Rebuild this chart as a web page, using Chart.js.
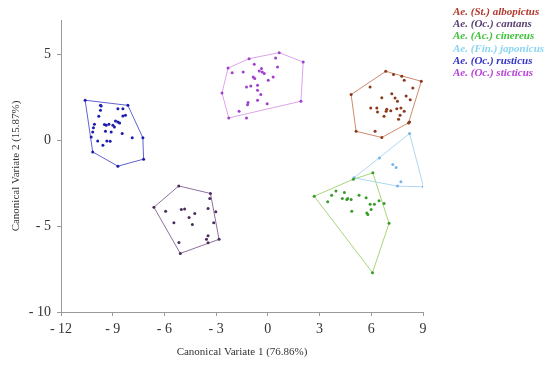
<!DOCTYPE html>
<html><head><meta charset="utf-8">
<script src="https://cdn.jsdelivr.net/npm/chart.js@4.4.1/dist/chart.umd.min.js"></script>
<style>
html,body{margin:0;padding:0;background:#fff;}
#wrap{position:relative;width:550px;height:365px;}
#legend{position:absolute;left:453px;top:5px;font-family:"Liberation Serif",serif;font-style:italic;font-weight:bold;font-size:11px;line-height:12.2px;}
</style></head>
<body><div id="wrap"><canvas id="c" width="550" height="365"></canvas>
<div id="legend"></div></div>
<script>
const species = ["Ae. (St.) albopictus","Ae. (Oc.) cantans","Ae. (Ac.) cinereus","Ae. (Fin.) japonicus","Ae. (Oc.) rusticus","Ae. (Oc.) sticticus"];
const textColors = ["#b23a2c","#5a3f72","#3fc23a","#8ad6f2","#3333c4","#b843d8"];
const pointColors = ["#8a3a1c","#4a2c5c","#3a9a2a","#7ab4e4","#1c1cae","#a040cc"];
const hullColors = ["#cf8a6c","#8f6f9f","#a6d67a","#aed8f2","#6262d2","#dca4ea"];
const xTicks = [-12,-9,-6,-3,0,3,6,9];
const yTicks = [-10,-5,0,5];

const albopictusPts = [[6.84,4.01],[8.90,3.43],[8.16,1.01],[6.61,0.16],[5.12,0.52],[4.83,2.66],[7.29,3.82],[7.77,3.72],[7.91,3.49],[5.93,3.10],[8.41,3.04],[6.61,2.48],[7.19,2.71],[7.38,2.46],[7.52,2.27],[8.02,2.58],[8.26,2.36],[5.97,1.88],[6.32,1.88],[6.36,1.65],[6.90,1.80],[6.86,1.69],[7.13,1.71],[7.48,1.84],[7.72,1.88],[7.91,1.69],[7.67,1.45],[6.74,1.40],[7.58,1.22],[8.22,1.06],[6.22,0.52]];
const albopictusHull = [[6.84,4.01],[8.90,3.43],[8.16,1.01],[6.61,0.16],[5.12,0.52],[4.83,2.66]];

const cantansPts = [[-5.17,-2.66],[-3.33,-3.10],[-2.83,-5.77],[-5.08,-6.59],[-6.61,-3.90],[-5.93,-4.13],[-5.02,-4.03],[-4.83,-4.01],[-4.24,-4.26],[-4.57,-4.50],[-5.45,-4.81],[-4.38,-4.90],[-3.47,-3.97],[-3.37,-3.39],[-3.02,-4.17],[-3.14,-4.81],[-3.47,-5.56],[-3.56,-5.76],[-3.47,-5.97],[-5.16,-5.95]];
const cantansHull = [[-5.17,-2.66],[-3.33,-3.10],[-2.83,-5.77],[-5.08,-6.59],[-6.61,-3.90]];

const cinereusPts = [[4.96,-2.27],[6.09,-1.90],[7.03,-4.84],[6.07,-7.71],[2.69,-3.26],[3.47,-3.58],[3.70,-3.20],[3.95,-2.95],[4.44,-3.04],[4.32,-3.39],[4.58,-3.45],[4.63,-3.39],[4.83,-3.45],[5.29,-3.20],[5.70,-3.35],[5.93,-3.72],[6.18,-3.72],[6.45,-3.53],[6.74,-3.68],[5.99,-4.03],[4.87,-4.13],[5.74,-4.23],[5.80,-4.32]];
const cinereusHull = [[4.96,-2.27],[6.09,-1.90],[7.03,-4.84],[6.07,-7.71],[2.69,-3.26]];

const japonicusPts = [[8.22,0.39],[9.03,-2.71],[7.52,-2.67],[5.00,-2.19],[6.47,-1.03],[7.25,-1.41],[7.44,-1.59],[7.72,-2.42]];
const japonicusHull = [[8.22,0.39],[9.03,-2.71],[7.52,-2.67],[5.00,-2.19]];

const rusticusPts = [[-10.6,2.33],[-8.12,2.03],[-7.25,0.14],[-7.21,-1.1],[-8.7,-1.51],[-10.16,-0.68],[-9.71,2.03],[-9.67,2.0],[-9.71,1.74],[-9.81,1.40],[-8.70,1.84],[-8.41,1.84],[-8.26,1.45],[-8.41,1.41],[-10.06,0.93],[-10.12,0.72],[-10.16,0.48],[-9.48,0.91],[-9.38,0.87],[-9.22,0.93],[-8.99,0.87],[-8.84,1.12],[-8.70,1.06],[-8.6,1.0],[-8.90,0.77],[-9.09,0.48],[-9.42,0.52],[-8.45,0.39],[-7.87,0.14],[-9.87,-0.04],[-9.57,-0.29],[-9.34,-0.04],[-9.15,-0.06],[-10.25,0.19]];
const rusticusHull = [[-10.6,2.33],[-8.12,2.03],[-7.25,0.14],[-7.21,-1.1],[-8.7,-1.51],[-10.16,-0.68]];

const sticticusPts = [[-2.31,4.20],[-1.09,4.75],[0.66,5.10],[2.05,4.55],[1.92,2.27],[-2.27,1.30],[-2.66,2.75],[-2.07,3.93],[-1.43,3.97],[-0.79,4.42],[-0.50,4.03],[-0.37,4.17],[-0.21,3.88],[-0.33,3.97],[0.45,4.79],[0.56,4.26],[-0.85,3.68],[-0.76,3.59],[0.02,3.49],[0.31,3.68],[-1.24,3.10],[-0.99,3.16],[-0.60,3.20],[-0.60,2.91],[-0.41,2.66],[-1.15,2.19],[-1.18,2.07],[-0.60,2.33],[-0.04,2.13],[-1.67,1.69],[-1.24,1.30]];
const sticticusHull = [[-2.31,4.20],[-1.09,4.75],[0.66,5.10],[2.05,4.55],[1.92,2.27],[-2.27,1.30],[-2.66,2.75]];

const allPts = [albopictusPts,cantansPts,cinereusPts,japonicusPts,rusticusPts,sticticusPts];
const allHulls = [albopictusHull,cantansHull,cinereusHull,japonicusHull,rusticusHull,sticticusHull];

const toXY = a => a.map(p => ({x:p[0], y:p[1]}));
const datasets = [];
allHulls.forEach((h,i) => {
  const pts = toXY(h); pts.push({x:h[0][0], y:h[0][1]});
  datasets.push({data:pts, showLine:true, borderColor:hullColors[i], borderWidth:1, pointRadius:0, fill:false, order:2});
});
allPts.forEach((p,i) => {
  datasets.push({data:toXY(p), showLine:false, pointRadius:1.5, pointBackgroundColor:pointColors[i], pointBorderWidth:0, order:1});
});

const lg = document.getElementById('legend');
species.forEach((s,i) => { const d=document.createElement('div'); d.textContent=s; d.style.color=textColors[i]; lg.appendChild(d); });

const fmt = v => v < 0 ? '- ' + Math.abs(v) : String(v);
const serif = '"Liberation Serif", serif';
new Chart(document.getElementById('c'), {
  type:'scatter',
  data:{datasets},
  options:{
    responsive:false, animation:false,
    layout:{padding:{left:0,right:127,top:20,bottom:0}},
    plugins:{legend:{display:false}, tooltip:{enabled:false}},
    scales:{
      x:{min:-12,max:9,
        afterBuildTicks:s=>{s.ticks = xTicks.map(v=>({value:v}));},
        afterFit:s=>{s.height=53;},
        ticks:{callback:fmt, color:'#333', font:{family:serif,size:14}, padding:5, maxRotation:0},
        grid:{drawOnChartArea:false, color:'#999', tickLength:4},
        border:{color:'#999', width:1},
        title:{display:true, text:'Canonical Variate 1 (76.86%)', color:'#333', font:{family:serif,size:11}, padding:{top:0,bottom:6}}
      },
      y:{min:-10,max:7,
        afterBuildTicks:s=>{s.ticks = yTicks.map(v=>({value:v}));},
        afterFit:s=>{s.width=61;},
        ticks:{callback:fmt, color:'#333', font:{family:serif,size:14}, padding:6},
        grid:{drawOnChartArea:false, color:'#999', tickLength:4},
        border:{color:'#999', width:1},
        title:{display:true, text:'Canonical Variate 2 (15.87%)', color:'#333', font:{family:serif,size:11}, padding:{top:10,bottom:0}}
      }
    }
  }
});
</script></body></html>
